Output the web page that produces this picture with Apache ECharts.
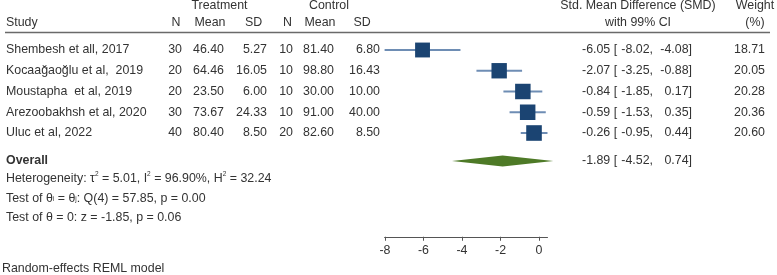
<!DOCTYPE html>
<html><head><meta charset="utf-8">
<script src="https://cdn.jsdelivr.net/npm/echarts@6/dist/echarts.min.js"></script>
<style>html,body{margin:0;padding:0;background:#fff}#c{width:777px;height:275px}</style>
</head><body><div id="c"></div>
<script>
const studies = ["Shembesh et all, 2017","Kocaağaoğlu et al,  2019","Moustapha  et al, 2019","Arezoobakhsh et al, 2020","Uluc et al, 2022"];
const treatN = [30,20,20,30,40];
const treatMean = ["46.40","64.46","23.50","73.67","80.40"];
const treatSD = ["5.27","16.05","6.00","24.33","8.50"];
const ctrlN = [10,10,10,10,20];
const ctrlMean = ["81.40","98.80","30.00","91.00","82.60"];
const ctrlSD = ["6.80","16.43","10.00","40.00","8.50"];
const smd = [-6.05,-2.07,-0.84,-0.59,-0.26];
const ciLow = [-8.02,-3.25,-1.85,-1.53,-0.95];
const ciHigh = [-4.08,-0.88,0.17,0.35,0.44];
const weight = [18.71,20.05,20.28,20.36,20.60];
const overallEst = [-1.89];
const overallLow = [-4.52];
const overallHigh = [0.74];
const xTicks = [-8,-6,-4,-2,0];

const FONT = "'Liberation Sans', Arial, Helvetica, sans-serif";
const FS = 12.4;
const TC = '#333';
const OVERALL_ROW = 5.35;

function f2(v){return v.toFixed(2);}
function txt(x,y,s,align,extra){
  return {type:'text',x:x,y:y,silent:true,style:Object.assign({text:s,fill:TC,fontSize:FS,fontFamily:FONT,align:align||'left',verticalAlign:'middle'},extra||{})};
}
function ciTexts(y,e,l,h){
  return [txt(582,y,f2(e)+' [','left'),txt(653,y,f2(l)+',','right'),txt(692,y,f2(h)+']','right')];
}

const chart = echarts.init(document.getElementById('c'),null,{renderer:'canvas'});
chart.setOption({
  animation:false,
  backgroundColor:'#fff',
  grid:{left:384.6,width:162.9,top:8.5,height:228.25},
  xAxis:{type:'value',min:-8.02,max:0.44,position:'bottom',
    axisLine:{show:true,onZero:false,lineStyle:{color:'#555',width:1}},
    axisTick:{show:true,length:4,customValues:xTicks,lineStyle:{color:'#555'}},
    axisLabel:{show:true,customValues:xTicks,color:TC,fontSize:FS,fontFamily:FONT,margin:8},
    splitLine:{show:false}},
  yAxis:{type:'value',min:-2,max:9,inverse:true,show:false,splitLine:{show:false}},
  series:[
    {type:'custom',name:'studies',clip:false,
     data:studies.map((s,i)=>[smd[i],i,ciLow[i],ciHigh[i],weight[i]]),
     renderItem:function(params,api){
       const i=params.dataIndex;
       const c=api.coord([api.value(0),api.value(1)]);
       const lo=api.coord([api.value(2),api.value(1)]);
       const hi=api.coord([api.value(3),api.value(1)]);
       const side=15.6*Math.sqrt(api.value(4)/20.6);
       const y=c[1];
       return {type:'group',children:[
         {type:'line',shape:{x1:lo[0],y1:y,x2:hi[0],y2:y},style:{stroke:'#6e8db4',lineWidth:2}},
         {type:'rect',shape:{x:c[0]-side/2,y:y-side/2,width:side,height:side},style:{fill:'#1b4472'}},
         txt(6,y,studies[i]),
         txt(182,y,String(treatN[i]),'right'),
         txt(224,y,treatMean[i],'right'),
         txt(267,y,treatSD[i],'right'),
         txt(293,y,String(ctrlN[i]),'right'),
         txt(334,y,ctrlMean[i],'right'),
         txt(380,y,ctrlSD[i],'right'),
         ...ciTexts(y,smd[i],ciLow[i],ciHigh[i]),
         txt(765,y,f2(weight[i]),'right')
       ]};
     }},
    {type:'custom',name:'overall',clip:false,
     data:[[overallEst[0],OVERALL_ROW,overallLow[0],overallHigh[0]]],
     renderItem:function(params,api){
       const c=api.coord([api.value(0),api.value(1)]);
       const lo=api.coord([api.value(2),api.value(1)]);
       const hi=api.coord([api.value(3),api.value(1)]);
       const y=c[1],h=5.6;
       return {type:'group',children:[
         {type:'polygon',shape:{points:[[lo[0],y],[c[0],y-h],[hi[0],y],[c[0],y+h]]},style:{fill:'#4e7a27'}},
         txt(6,y,'Overall','left',{fontWeight:'bold'}),
         ...ciTexts(y,overallEst[0],overallLow[0],overallHigh[0])
       ]};
     }}
  ],
  graphic:[
    txt(219.5,6,'Treatment','center'),
    txt(329,6,'Control','center'),
    txt(6,23,'Study'),
    txt(176,23,'N','center'),
    txt(210,23,'Mean','center'),
    txt(253.5,23,'SD','center'),
    txt(287.5,23,'N','center'),
    txt(320,23,'Mean','center'),
    txt(362,23,'SD','center'),
    txt(638,6,'Std. Mean Difference (SMD)','center'),
    txt(638,23,'with 99% CI','center'),
    txt(755,6,'Weight','center'),
    txt(755,23,'(%)','center'),
    {type:'line',silent:true,shape:{x1:5,y1:32.5,x2:770,y2:32.5},style:{stroke:'#6a6a6a',lineWidth:1.6}},
    {type:'text',x:6,y:179,silent:true,style:{text:'Heterogeneity: τ{sup|2} = 5.01, I{sup|2} = 96.90%, H{sup|2} = 32.24',fill:TC,fontSize:FS,fontFamily:FONT,verticalAlign:'middle',lineHeight:16,
      rich:{sup:{fontSize:6.5,fill:TC,fontFamily:FONT,verticalAlign:'top',lineHeight:16}}}},
    {type:'text',x:6,y:199,silent:true,style:{text:'Test of θ{sub|i} = θ{sub|j}: Q(4) = 57.85, p = 0.00',fill:TC,fontSize:FS,fontFamily:FONT,verticalAlign:'middle',lineHeight:16,
      rich:{sub:{fontSize:6.5,fill:TC,fontFamily:FONT,verticalAlign:'middle',lineHeight:16}}}},
    txt(6,218,'Test of θ = 0: z = -1.85, p = 0.06'),
    txt(2,269,'Random-effects REML model')
  ]
});
</script></body></html>
